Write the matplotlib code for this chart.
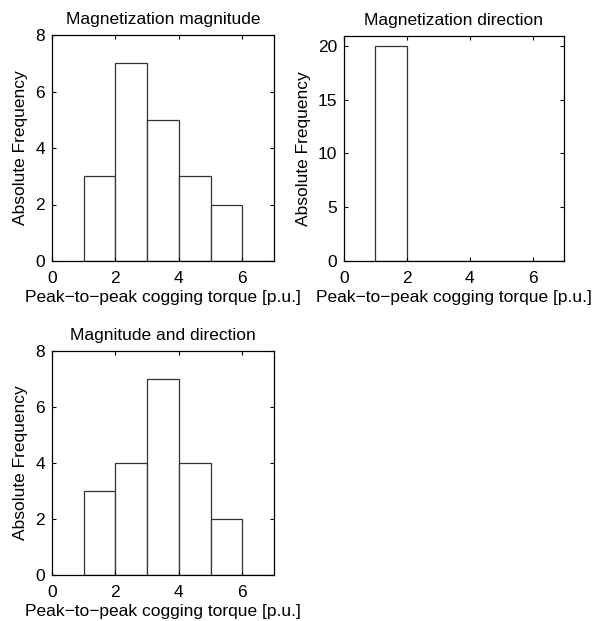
import matplotlib
matplotlib.use("Agg")
import matplotlib.pyplot as plt

plt.rcParams['font.family'] = ['Liberation Sans', 'DejaVu Sans']
plt.rcParams['font.size'] = 12

# Histogram bins (left edges) and counts per case
bin_edges = [1, 2, 3, 4, 5, 6]
counts_magnitude = [3, 7, 5, 3, 2, 0]
counts_direction = [20, 0, 0, 0, 0, 0]
counts_both = [3, 4, 7, 4, 2, 0]

titles = ['Magnetization magnitude', 'Magnetization direction', 'Magnitude and direction']
xlabel = 'Peak\u2212to\u2212peak cogging torque [p.u.]'
ylabel = 'Absolute Frequency'

W, H = 595, 621
fig = plt.figure(figsize=(W / 100, H / 100), dpi=100)


def make_axes(left, top, right, bottom):
    return fig.add_axes([left / W, 1 - bottom / H, (right - left) / W, (bottom - top) / H])


panels = [
    (make_axes(52, 35, 274, 261), counts_magnitude, titles[0], 8, [0, 2, 4, 6, 8]),
    (make_axes(344, 36, 564, 261), counts_direction, titles[1], 20.9, [0, 5, 10, 15, 20]),
    (make_axes(52, 351, 274, 575), counts_both, titles[2], 8, [0, 2, 4, 6, 8]),
]

for ax, counts, title, ytop, yticks in panels:
    ax.bar(bin_edges, counts, width=1, align='edge', color='white',
           edgecolor='#333333', linewidth=0.9)
    ax.set_xlim(0, 7)
    ax.set_ylim(0, ytop)
    ax.set_xticks([0, 2, 4, 6])
    ax.set_yticks(yticks)
    ax.tick_params(direction='in', top=True, right=True, length=3,
                   labelsize=12.5, pad=5)
    ax.tick_params(axis='x', pad=7)
    for s in ax.spines.values():
        s.set_linewidth(0.9)
    ax.set_title(title, fontsize=12.5, pad=8)
    ax.set_xlabel(xlabel, fontsize=12.5, labelpad=3)
    ax.set_ylabel(ylabel, fontsize=12.5, labelpad=5)

fig.savefig('out.png', dpi=100, facecolor='white')
